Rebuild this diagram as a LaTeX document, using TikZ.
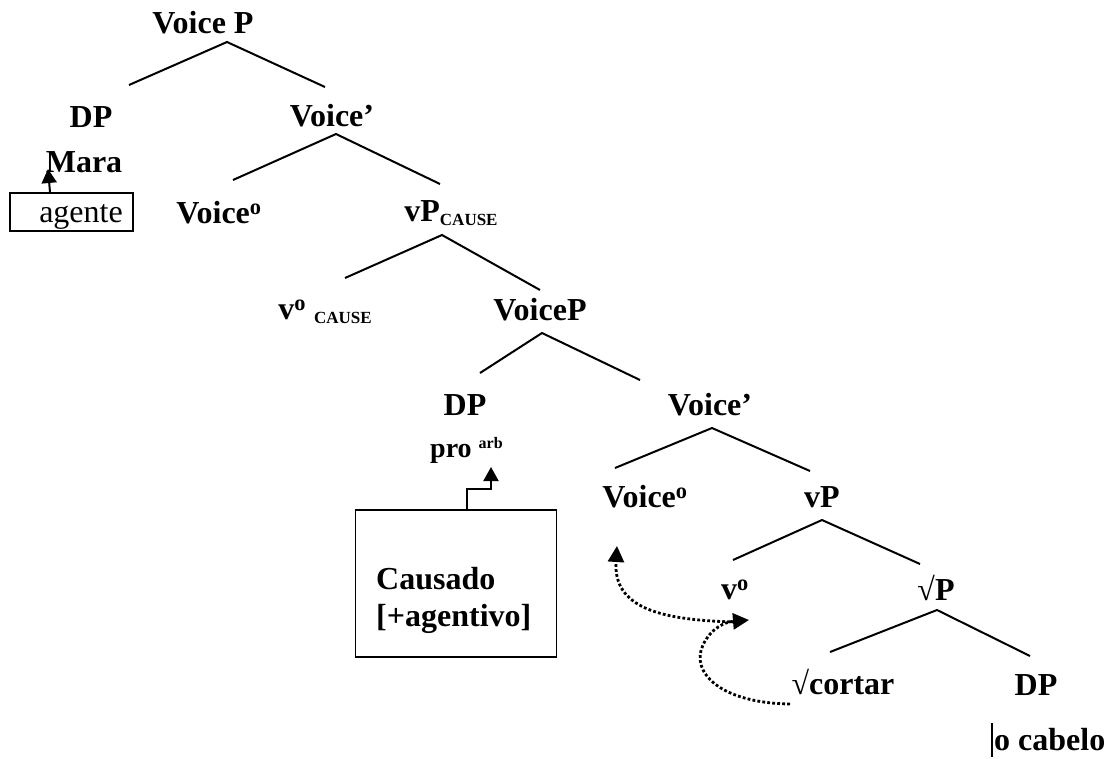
\documentclass[tikz,border=0pt]{standalone}
\usepackage{fontspec}
\setmainfont{Liberation Serif}
\usetikzlibrary{arrows.meta}
\tikzset{
  lbl/.style={font=\fontsize{32}{36}\selectfont\bfseries, inner sep=0pt},
  branch/.style={line width=2pt},
  frame/.style={draw, line width=1.8pt, inner sep=0pt},
  pointer/.style={line width=2pt, -{Triangle[length=14pt,width=15pt]}},
  movement/.style={line width=2.8pt, dash pattern=on 2.8pt off 2.2pt, -{Triangle[length=16pt,width=16pt]}}
}
\newcommand{\lowcaps}[1]{\raisebox{-3.5pt}{\fontsize{17}{20}\selectfont\bfseries #1}}
\newcommand{\ordo}{\textsuperscript{o}}
\begin{document}
\begin{tikzpicture}[x=1pt,y=-1pt]
\useasboundingbox (0,0) rectangle (1113,758);

% labels of the tree
\node[lbl] (voicePtop) at (203,22.5) {Voice P};
\node[lbl] (dp1) at (91,117) {DP};
\node[lbl] (voicebar1) at (332,116) {Voice’};
\node[lbl] (mara) at (84,162) {Mara};
\node[lbl] (voicehead1) at (219,213) {Voice\ordo};
\node[lbl] (vpcause) at (451,213) {vP\lowcaps{CAUSE}};
\node[lbl] (vcause) at (325,312) {v\ordo\ \lowcaps{CAUSE}};
\node[lbl] (voiceP2) at (540,310) {VoiceP};
\node[lbl] (dp2) at (465,405) {DP};
\node[lbl] (voicebar2) at (710,405) {Voice’};
\node[lbl, font=\fontsize{28}{32}\selectfont\bfseries, anchor=base west] (pro) at (430,457)
  {pro \raisebox{9pt}{\fontsize{16}{18}\selectfont\bfseries arb}};
\node[lbl] (voicehead2) at (645,497) {Voice\ordo};
\node[lbl] (vp) at (822,497) {vP};
\node[lbl] (v) at (735,590) {v\ordo};
\node[lbl, anchor=base] (rootP) at (936,600) {√P};
\node[lbl, anchor=base] (cortar) at (843,694) {√cortar};
\node[lbl] (dp3) at (1036,685) {DP};
\node[lbl, anchor=base west] (cabelo) at (994,750) {o cabelo};
\coordinate (barTop) at ([xshift=-2pt]cabelo.west |- 0,723);
\coordinate (barBot) at ([xshift=-2pt]cabelo.west |- 0,757);
\draw[line width=2pt] (barTop) -- (barBot);

% theta-role boxes
\node[frame, minimum width=123pt, minimum height=38pt] (agbox) at (71.5,212) {};
\node[font=\fontsize{32}{36}\selectfont, inner sep=0pt, anchor=base] (agente) at (81,222) {agente};
\node[frame, minimum width=201pt, minimum height=147pt] (cbox) at (456,583.5) {};
\node[lbl, anchor=base west] (causado) at (376,589) {Causado};
\node[lbl, anchor=base west] (agentivo) at (376,626) {[+agentivo]};

% branches
\coordinate (a1) at (227,42);
\draw[branch] (129,85) -- (a1) -- (325,87);
\coordinate (a2) at (336,134);
\draw[branch] (233,180) -- (a2) -- (440,184);
\coordinate (a3) at (442,235);
\draw[branch] (345,278) -- (a3) -- (540,290);
\coordinate (a4) at (542,333);
\draw[branch] (480,373) -- (a4) -- (640,380);
\coordinate (a5) at (712,428);
\draw[branch] (615,468) -- (a5) -- (810,471);
\coordinate (a6) at (822,520);
\draw[branch] (733,560) -- (a6) -- (920,564);
\coordinate (a7) at (937,610);
\draw[branch] (830,652) -- (a7) -- (1030,656);

% role pointers
\draw[pointer] (agbox.north -| 50,0) -- (48,169);
\draw[pointer] (cbox.north -| 467,0) -- (467,489) -- (491,489) -- (491,467);

% head movement
\draw[movement] (735,622) .. controls (660,620) and (613,608) .. (617,546);
\draw[movement] (790,704) .. controls (720,703) and (690,672) .. (703,645)
  .. controls (711,628) and (725,622) .. (749,620);
\end{tikzpicture}
\end{document}
